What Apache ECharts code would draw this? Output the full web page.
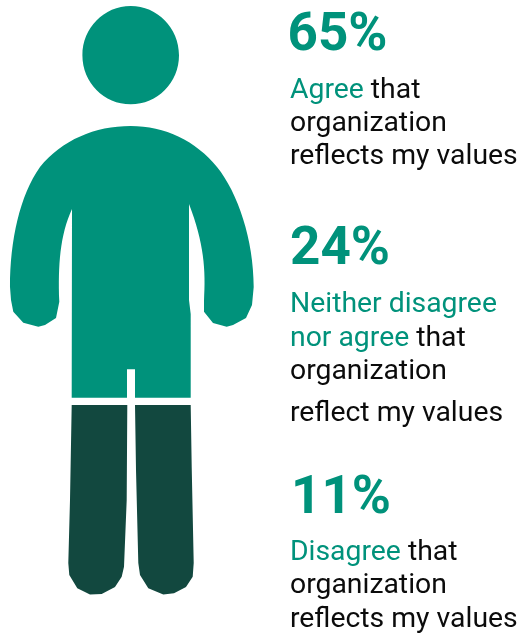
<!DOCTYPE html>
<html>
<head>
<meta charset="utf-8">
<style>html,body{margin:0;padding:0;background:#fff}#c{width:523px;height:634px}</style>
<script src="https://cdn.jsdelivr.net/npm/echarts@6/dist/echarts.min.js"></script>
</head>
<body>
<div id="c"></div>
<script>
// Survey shares, in percent
const agree = 65;
const neither = 24;
const disagree = 11;

// Response blocks: big figure, then lines of [accent text, plain text]
const percentLabels = [agree + '%', neither + '%', disagree + '%'];
const agreeLines = [['Agree', ' that'], ['', 'organization'], ['', 'reflects my values']];
const neitherLines = [['Neither disagree', ''], ['nor agree', ' that'], ['', 'organization'], ['', 'reflect my values']];
const disagreeLines = [['Disagree', ' that'], ['', 'organization'], ['', 'reflects my values']];

// Baselines for each block
const percentX = [287.5, 290, 291];
const percentBaselines = [50, 264, 513];
const agreeBaselines = [98, 131, 164];
const neitherBaselines = [312, 346, 379, 421];
const disagreeBaselines = [560, 593, 627];

const TEAL = '#00927b';
const DARK = '#12483f';
const INK = '#0b0b0b';

// Silhouette outlines: head and torso share one shape, the legs another
const upperBody = 'path://' +
  'M82.4 55.2C82.4 28 104 6 130.7 6C157.4 6 179 28 179 55.2C179 82.4 157.4 104.3 130.7 104.3C104 104.3 82.4 82.4 82.4 55.2Z' +
  'M130.6 126C165 126 196 141 217 167C238 193 253.7 240 253.7 287L252 305L246 318L233 325L226.7 326.7L213 323L204 311.7' +
  'L204 301C206 270 204 243 189 204L189 300L190.7 314L190.7 397.7L135 397.7L135 369.3L127 369.3L127 397.7L71.7 397.7L72 209' +
  'C60 235 58 265 59.3 301.7L56 318L45 325L38.3 326.7L23.3 322.7L13.3 311.7L11 300L10 287C10 240 20 195 40 167C62 140 95 126 130.6 126Z';
const legs = 'path://' +
  'M71.7 405L127.3 405L126.7 500L124 566.7L121.7 576.7L115 587L101.7 594L90 594.5L77.3 588.3L69.3 575L68.3 563L70 500Z' +
  'M135 405L190.7 405L191.7 466.7L193.7 563L192.7 576.7L186 587L174 593.3L163.3 594.5L148.3 588.3L140 575L138.3 563L136 470Z';

const chart = echarts.init(document.getElementById('c'), null, { renderer: 'canvas' });

// One line of copy, with an optional accent run ahead of the plain run
function lineItem(parts, baseline) {
  const seg = [];
  if (parts[0]) seg.push('{a|' + parts[0] + '}');
  if (parts[1]) seg.push('{b|' + parts[1] + '}');
  const shared = { fontFamily: 'Roboto', fontSize: 28.35, lineHeight: 34 };
  return {
    type: 'text', z: 10,
    style: {
      x: 290, y: baseline - 7, text: seg.join(''), verticalAlign: 'middle',
      rich: { a: { ...shared, fill: TEAL }, b: { ...shared, fill: INK } }
    }
  };
}
function percentItem(label, x, baseline) {
  return {
    type: 'text', z: 10,
    style: { x, y: baseline - 39.5, text: label, fill: TEAL, font: 'bold 53px Roboto' }
  };
}
const textItems = [];
percentLabels.forEach((t, i) => textItems.push(percentItem(t, percentX[i], percentBaselines[i])));
[[agreeLines, agreeBaselines], [neitherLines, neitherBaselines], [disagreeLines, disagreeBaselines]].forEach(([lines, ys]) => {
  lines.forEach((l, i) => textItems.push(lineItem(l, ys[i])));
});

chart.setOption({
  animation: false,
  backgroundColor: '#fff',
  // Upper figure and legs each fill their own band of the silhouette
  grid: [
    { left: 10, top: 6, width: 243.7, height: 391.7 },
    { left: 68.3, top: 405, width: 125.4, height: 189.5 }
  ],
  xAxis: [
    { type: 'category', gridIndex: 0, data: ['agree'], show: false },
    { type: 'category', gridIndex: 1, data: ['other'], show: false }
  ],
  yAxis: [
    { type: 'value', gridIndex: 0, min: 0, max: agree, show: false },
    { type: 'value', gridIndex: 1, min: 0, max: neither + disagree, show: false }
  ],
  series: [
    {
      type: 'pictorialBar', xAxisIndex: 0, yAxisIndex: 0,
      symbol: upperBody, symbolSize: ['100%', '100%'], symbolPosition: 'start',
      barWidth: '100%', silent: true,
      itemStyle: { color: TEAL }, data: [agree]
    },
    {
      type: 'pictorialBar', xAxisIndex: 1, yAxisIndex: 1,
      symbol: legs, symbolSize: ['100%', '100%'], symbolPosition: 'start',
      barWidth: '100%', silent: true,
      itemStyle: { color: DARK }, data: [neither + disagree]
    }
  ],
  graphic: { elements: textItems }
});
</script>
</body>
</html>
